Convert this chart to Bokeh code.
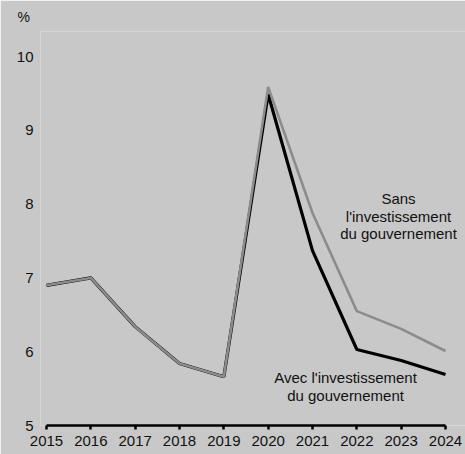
from bokeh.plotting import figure
from bokeh.models import Range1d, FixedTicker, Label, ColumnDataSource, Title
from bokeh.embed import file_html
from bokeh.resources import INLINE

years = [2015, 2016, 2017, 2018, 2019, 2020, 2021, 2022, 2023, 2024]
sans_invest = [6.9, 7.0, 6.34, 5.84, 5.66, 9.59, 7.88, 6.55, 6.31, 6.01]
avec_invest = [6.9, 7.0, 6.34, 5.84, 5.66, 9.49, 7.37, 6.03, 5.88, 5.69]
y_ticks = [5, 6, 7, 8, 9, 10]

BG = "#c8c8c8"
FONT = "Liberation Sans"

p = figure(width=465, height=454, output_backend="svg", toolbar_location=None,
           x_range=Range1d(2014.865, 2024.451), y_range=Range1d(5, 10.34),
           min_border_left=40, min_border_right=0, min_border_top=30, min_border_bottom=29)
p.background_fill_color = BG
p.border_fill_color = BG
p.outline_line_color = None
p.grid.grid_line_color = None

p.add_layout(Title(text="%", align="left", offset=-23, text_font=FONT, text_font_size="14px",
                   text_font_style="normal", text_color="#111111", standoff=13), "above")

p.xaxis.ticker = FixedTicker(ticks=years)
p.xaxis.bounds = (years[0], years[-1])
p.xaxis.axis_line_width = 2.5
p.xaxis.axis_line_color = "black"
p.xaxis.major_tick_line_width = 2.5
p.xaxis.major_tick_in = 0
p.xaxis.major_tick_out = 4
p.xaxis.minor_tick_line_color = None
p.xaxis.major_label_standoff = 6
p.xaxis.major_label_text_font = FONT
p.xaxis.major_label_text_font_size = "15px"
p.xaxis.major_label_text_color = "#111111"

p.yaxis.ticker = FixedTicker(ticks=y_ticks)
p.yaxis.axis_line_color = None
p.yaxis.major_tick_line_color = None
p.yaxis.minor_tick_line_color = None
p.yaxis.major_tick_in = 0
p.yaxis.major_tick_out = 0
p.yaxis.major_label_standoff = 7
p.yaxis.major_label_text_font = FONT
p.yaxis.major_label_text_font_size = "15px"
p.yaxis.major_label_text_color = "#111111"

src = ColumnDataSource(dict(x=years, sans=sans_invest, avec=avec_invest))
p.line("x", "avec", source=src, line_color="black", line_width=3.2)
p.line("x", "sans", source=src, line_color="#8c8c8c", line_width=2.6)

sans_lines = ["Sans", "l'investissement", "du gouvernement"]
sans_y = [8.07, 7.83, 7.60]
avec_lines = ["Avec l'investissement", "du gouvernement"]
avec_y = [5.65, 5.41]
for t, yy in zip(sans_lines, sans_y):
    p.add_layout(Label(x=2022.94, y=yy, text=t, text_font=FONT, text_font_size="15px",
                       text_color="#111111", text_align="center", text_baseline="middle"))
for t, yy in zip(avec_lines, avec_y):
    p.add_layout(Label(x=2021.745, y=yy, text=t, text_font=FONT, text_font_size="15px",
                       text_color="#111111", text_align="center", text_baseline="middle"))

html = file_html(p, INLINE)
html = html.replace("<body>", '<body style="background:#c8c8c8">', 1)
open("out.html", "w").write(html)
